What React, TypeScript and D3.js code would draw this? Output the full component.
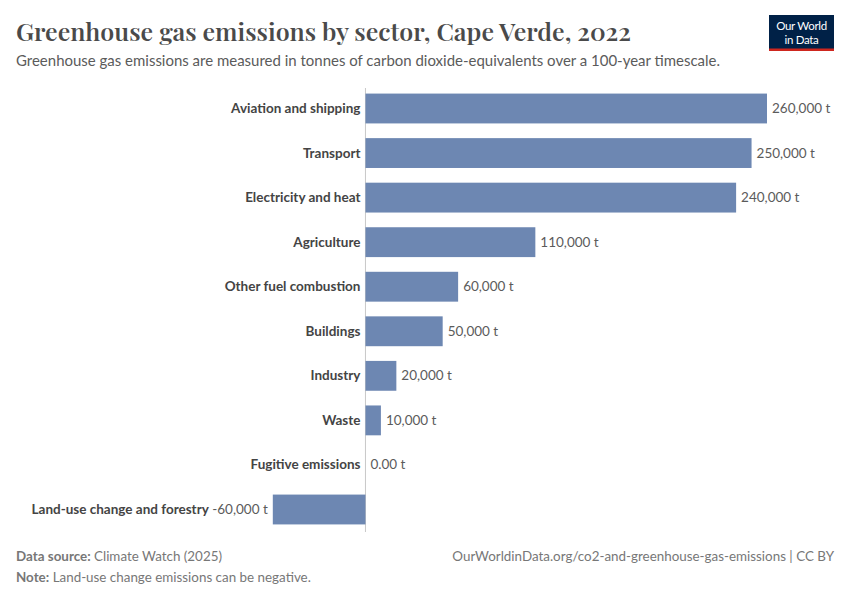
import React from 'react';
import * as d3 from 'd3';

const sectors = [
  'Aviation and shipping',
  'Transport',
  'Electricity and heat',
  'Agriculture',
  'Other fuel combustion',
  'Buildings',
  'Industry',
  'Waste',
  'Fugitive emissions',
  'Land-use change and forestry',
];
const emissions = [260000, 250000, 240000, 110000, 60000, 50000, 20000, 10000, 0, -60000];
const valueLabels = ['260,000 t', '250,000 t', '240,000 t', '110,000 t', '60,000 t', '50,000 t', '20,000 t', '10,000 t', '0.00 t', '-60,000 t'];

const W = 850;
const H = 600;
const sans = 'Lato, "Noto Sans", sans-serif';

export default function App() {
  const x = d3.scaleLinear().domain([-60000, 260000]).range([272.8, 767]);
  const y = d3.scaleBand().domain(sectors).range([86, 532]).paddingInner(0.33).paddingOuter(0.17);
  const x0 = x(0);

  return (
    <svg width={W} height={H} viewBox={`0 0 ${W} ${H}`} style={{ display: 'block', margin: -8, background: '#fff' }}>
      <text x={16} y={41} fontFamily='"Playfair Display", "DejaVu Serif", Georgia, serif' fontSize={25} fontWeight={600}
        fill="#4a4a4a" textLength={615} lengthAdjust="spacingAndGlyphs">
        Greenhouse gas emissions by sector, Cape Verde, 2022
      </text>
      <text x={16} y={66} fontFamily={sans} fontSize={15} fill="#5b5b5b" textLength={704} lengthAdjust="spacingAndGlyphs">
        Greenhouse gas emissions are measured in tonnes of carbon dioxide-equivalents over a 100-year timescale.
      </text>

      <g>
        <rect x={769} y={15} width={65} height={35} fill="#002147" />
        <rect x={769} y={48.5} width={65} height={2.5} fill="#ce261e" />
        <text x={801.5} y={30} textAnchor="middle" fontFamily={sans} fontSize={11.5} fill="#fff" letterSpacing={-0.3}>Our World</text>
        <text x={801.5} y={44} textAnchor="middle" fontFamily={sans} fontSize={11.5} fill="#fff" letterSpacing={-0.3}>in Data</text>
      </g>

      <line x1={x0} x2={x0} y1={88} y2={532} stroke="#c8c8c8" strokeWidth={1} />

      {sectors.map((s, i) => {
        const v = emissions[i];
        const by = y(s)!;
        const bh = y.bandwidth();
        const cy = by + bh / 2;
        const left = Math.min(x(v), x0);
        const width = Math.abs(x(v) - x0);
        const neg = v < 0;
        return (
          <g key={s}>
            <rect x={left} y={by} width={width} height={bh} fill="#6d87b2" />
            {neg ? (
              <text x={left - 5} y={cy + 4.5} textAnchor="end" fontFamily={sans} fontSize={13.5}>
                <tspan fontWeight="bold" fill="#444">{s}</tspan>
                <tspan fill="#5b5b5b"> {valueLabels[i]}</tspan>
              </text>
            ) : (
              <>
                <text x={x0 - 5} y={cy + 4.5} textAnchor="end" fontFamily={sans} fontSize={13.5} fontWeight="bold" fill="#444">{s}</text>
                <text x={x(v) + 5} y={cy + 4.5} fontFamily={sans} fontSize={13.5} fill="#5b5b5b">{valueLabels[i]}</text>
              </>
            )}
          </g>
        );
      })}

      <text x={16} y={561} fontFamily={sans} fontSize={13.4} fill="#777">
        <tspan fontWeight="bold">Data source:</tspan> Climate Watch (2025)
      </text>
      <text x={834} y={561} textAnchor="end" fontFamily={sans} fontSize={13.4} fill="#777">
        OurWorldinData.org/co2-and-greenhouse-gas-emissions | CC BY
      </text>
      <text x={16} y={582} fontFamily={sans} fontSize={13.4} fill="#777">
        <tspan fontWeight="bold">Note:</tspan> Land-use change emissions can be negative.
      </text>
    </svg>
  );
}
